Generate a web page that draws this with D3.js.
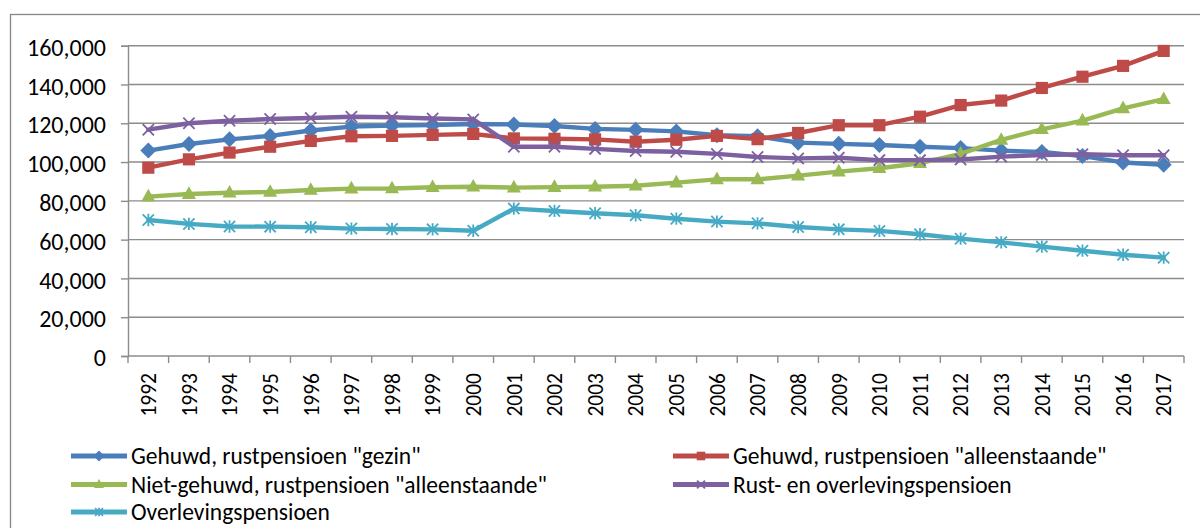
<!DOCTYPE html>
<html>
<head>
<meta charset="utf-8">
<script src="https://cdn.jsdelivr.net/npm/d3@7/dist/d3.min.js"></script>
<style>
  html, body { margin: 0; padding: 0; background: #fff; }
  svg { display: block; font-family: Carlito, Lato, "Liberation Sans", sans-serif; }
</style>
</head>
<body>
<svg id="chart" width="1200" height="528"></svg>
<script>
// Years on the category axis
const years = [1992, 1993, 1994, 1995, 1996, 1997, 1998, 1999, 2000, 2001, 2002, 2003, 2004,
               2005, 2006, 2007, 2008, 2009, 2010, 2011, 2012, 2013, 2014, 2015, 2016, 2017];

// Series values
const gehuwdGezin = [105900, 109300, 111700, 113500, 116300, 118300, 118800, 119100, 119600, 119400,
                     118600, 117100, 116600, 115800, 113800, 113300, 110000, 109400, 108800, 107900,
                     107200, 105900, 105200, 103100, 99800, 98600];
const gehuwdAlleenstaande = [97100, 101400, 104900, 107900, 110900, 113300, 113500, 114000, 114500, 112200,
                             112000, 111700, 110500, 111500, 113500, 111800, 115000, 119000, 119000, 123400,
                             129400, 131700, 138200, 144000, 149600, 157300];
const nietGehuwdAlleenstaande = [82200, 83500, 84200, 84600, 85600, 86300, 86400, 87000, 87300, 86800,
                                 87100, 87300, 87800, 89400, 91100, 91100, 93000, 95100, 96800, 99400,
                                 104200, 111400, 116900, 121400, 127700, 132400];
const rustEnOverleving = [116700, 120000, 121300, 122200, 122700, 123400, 123100, 122500, 122000, 107900,
                          107900, 106800, 105700, 105300, 104200, 102600, 101900, 102200, 101000, 101000,
                          101300, 102800, 103600, 104000, 103500, 103500];
const overleving = [70100, 68100, 66800, 66700, 66400, 65700, 65500, 65300, 64600, 76000,
                    74800, 73600, 72600, 70800, 69300, 68400, 66500, 65300, 64500, 62800,
                    60500, 58600, 56400, 54300, 52200, 50700];

const yTicks = [0, 20000, 40000, 60000, 80000, 100000, 120000, 140000, 160000];

const seriesNames = [
  'Gehuwd, rustpensioen "gezin"',
  'Gehuwd, rustpensioen "alleenstaande"',
  'Niet-gehuwd, rustpensioen "alleenstaande"',
  'Rust- en overlevingspensioen',
  'Overlevingspensioen'
];
const seriesColors = ["#4a7ebb", "#be4b48", "#98b954", "#7d60a0", "#46aac5"];
const seriesMarkers = ["diamond", "square", "triangle", "cross", "star"];

const series = [gehuwdGezin, gehuwdAlleenstaande, nietGehuwdAlleenstaande, rustEnOverleving, overleving]
  .map((values, i) => ({ name: seriesNames[i], color: seriesColors[i], marker: seriesMarkers[i], values }));

const svg = d3.select("#chart");
const gridColor = "#8c8c8c";

// Outer chart frame
svg.append("rect")
  .attr("x", 10.5).attr("y", 14.5)
  .attr("width", 1250).attr("height", 600)
  .attr("fill", "none").attr("stroke", "#868686").attr("stroke-width", 1.3);

const plot = { left: 128, right: 1184, top: 45.7, bottom: 356 };

const x = d3.scaleBand().domain(years).range([plot.left, plot.right]).padding(0);
const y = d3.scaleLinear().domain([0, 160000]).range([plot.bottom, plot.top]);
const cx = d => x(d) + x.bandwidth() / 2;

// Horizontal gridlines
svg.append("g").selectAll("line").data(yTicks.filter(v => v > 0)).join("line")
  .attr("x1", plot.left).attr("x2", plot.right)
  .attr("y1", d => y(d)).attr("y2", d => y(d))
  .attr("stroke", gridColor).attr("stroke-width", 1.4);

// Y axis
const yAxis = svg.append("g")
  .attr("transform", `translate(${plot.left},0)`)
  .call(d3.axisLeft(y).tickValues(yTicks).tickFormat(d3.format(",")).tickSize(7).tickPadding(15));
yAxis.select(".domain").attr("stroke", gridColor).attr("stroke-width", 1.4);
yAxis.selectAll(".tick line").attr("stroke", gridColor).attr("stroke-width", 1.4);
yAxis.selectAll(".tick text")
  .attr("font-family", "Carlito, Lato, sans-serif")
  .attr("font-size", 24).attr("fill", "#000").attr("dy", "0.4em");

// X axis line with ticks on category boundaries
const xAxis = svg.append("g");
xAxis.append("line")
  .attr("x1", plot.left).attr("x2", plot.right)
  .attr("y1", plot.bottom).attr("y2", plot.bottom)
  .attr("stroke", gridColor).attr("stroke-width", 1.4);
const boundaries = years.map(d => x(d)).concat([plot.right]);
xAxis.selectAll("line.tk").data(boundaries).join("line").attr("class", "tk")
  .attr("x1", d => d).attr("x2", d => d)
  .attr("y1", plot.bottom).attr("y2", plot.bottom + 7)
  .attr("stroke", gridColor).attr("stroke-width", 1.4);
xAxis.selectAll("text").data(years).join("text")
  .attr("transform", d => `translate(${cx(d)},373) rotate(-90)`)
  .attr("text-anchor", "end").attr("dy", "0.36em")
  .attr("font-size", 21.5).attr("fill", "#000")
  .text(d => d);

// Marker shapes
function drawMarker(g, type, color, s) {
  if (type === "diamond") {
    g.append("path").attr("d", `M0,${-s}L${s},0L0,${s}L${-s},0Z`).attr("fill", color);
  } else if (type === "square") {
    g.append("rect").attr("x", -s * 0.78).attr("y", -s * 0.78).attr("width", s * 1.56).attr("height", s * 1.56).attr("fill", color);
  } else if (type === "triangle") {
    g.append("path").attr("d", `M0,${-s}L${s * 0.9},${s * 0.62}L${-s * 0.9},${s * 0.62}Z`).attr("fill", color);
  } else if (type === "cross") {
    const r = s * 0.72;
    g.append("path").attr("d", `M${-r},${-r}L${r},${r}M${-r},${r}L${r},${-r}`)
      .attr("stroke", color).attr("stroke-width", 1.8).attr("fill", "none");
  } else if (type === "star") {
    const r = s * 0.72;
    g.append("path").attr("d", `M${-r},${-r}L${r},${r}M${-r},${r}L${r},${-r}M0,${-r * 1.1}L0,${r * 1.1}`)
      .attr("stroke", color).attr("stroke-width", 1.8).attr("fill", "none");
  }
}

const line = d3.line().x((d, i) => cx(years[i])).y(d => y(d));

// Lines with markers
series.forEach(s => {
  const g = svg.append("g");
  g.append("path").datum(s.values)
    .attr("d", line).attr("fill", "none")
    .attr("stroke", s.color).attr("stroke-width", 4.4)
    .attr("stroke-linejoin", "round").attr("stroke-linecap", "round");
  g.selectAll("g.m").data(s.values).join("g").attr("class", "m")
    .attr("transform", (d, i) => `translate(${cx(years[i])},${y(d)})`)
    .each(function () { drawMarker(d3.select(this), s.marker, s.color, s.marker === "diamond" ? 8 : 7.8); });
});

// Legend
const legendPos = [
  { x: 71, y: 456 }, { x: 673, y: 456 },
  { x: 71, y: 484.5 }, { x: 673, y: 484.5 },
  { x: 71, y: 512 }
];
series.forEach((s, i) => {
  const p = legendPos[i];
  const g = svg.append("g").attr("transform", `translate(${p.x},${p.y})`);
  g.append("line").attr("x1", 0).attr("x2", 56).attr("y1", 0).attr("y2", 0)
    .attr("stroke", s.color).attr("stroke-width", 5);
  const m = g.append("g").attr("transform", "translate(28,0)");
  drawMarker(m, s.marker, s.color, 5.5);
  g.append("text").attr("x", 60).attr("y", 0).attr("dy", "0.36em")
    .attr("font-size", 23.5).attr("fill", "#000").text(s.name);
});
</script>
</body>
</html>
